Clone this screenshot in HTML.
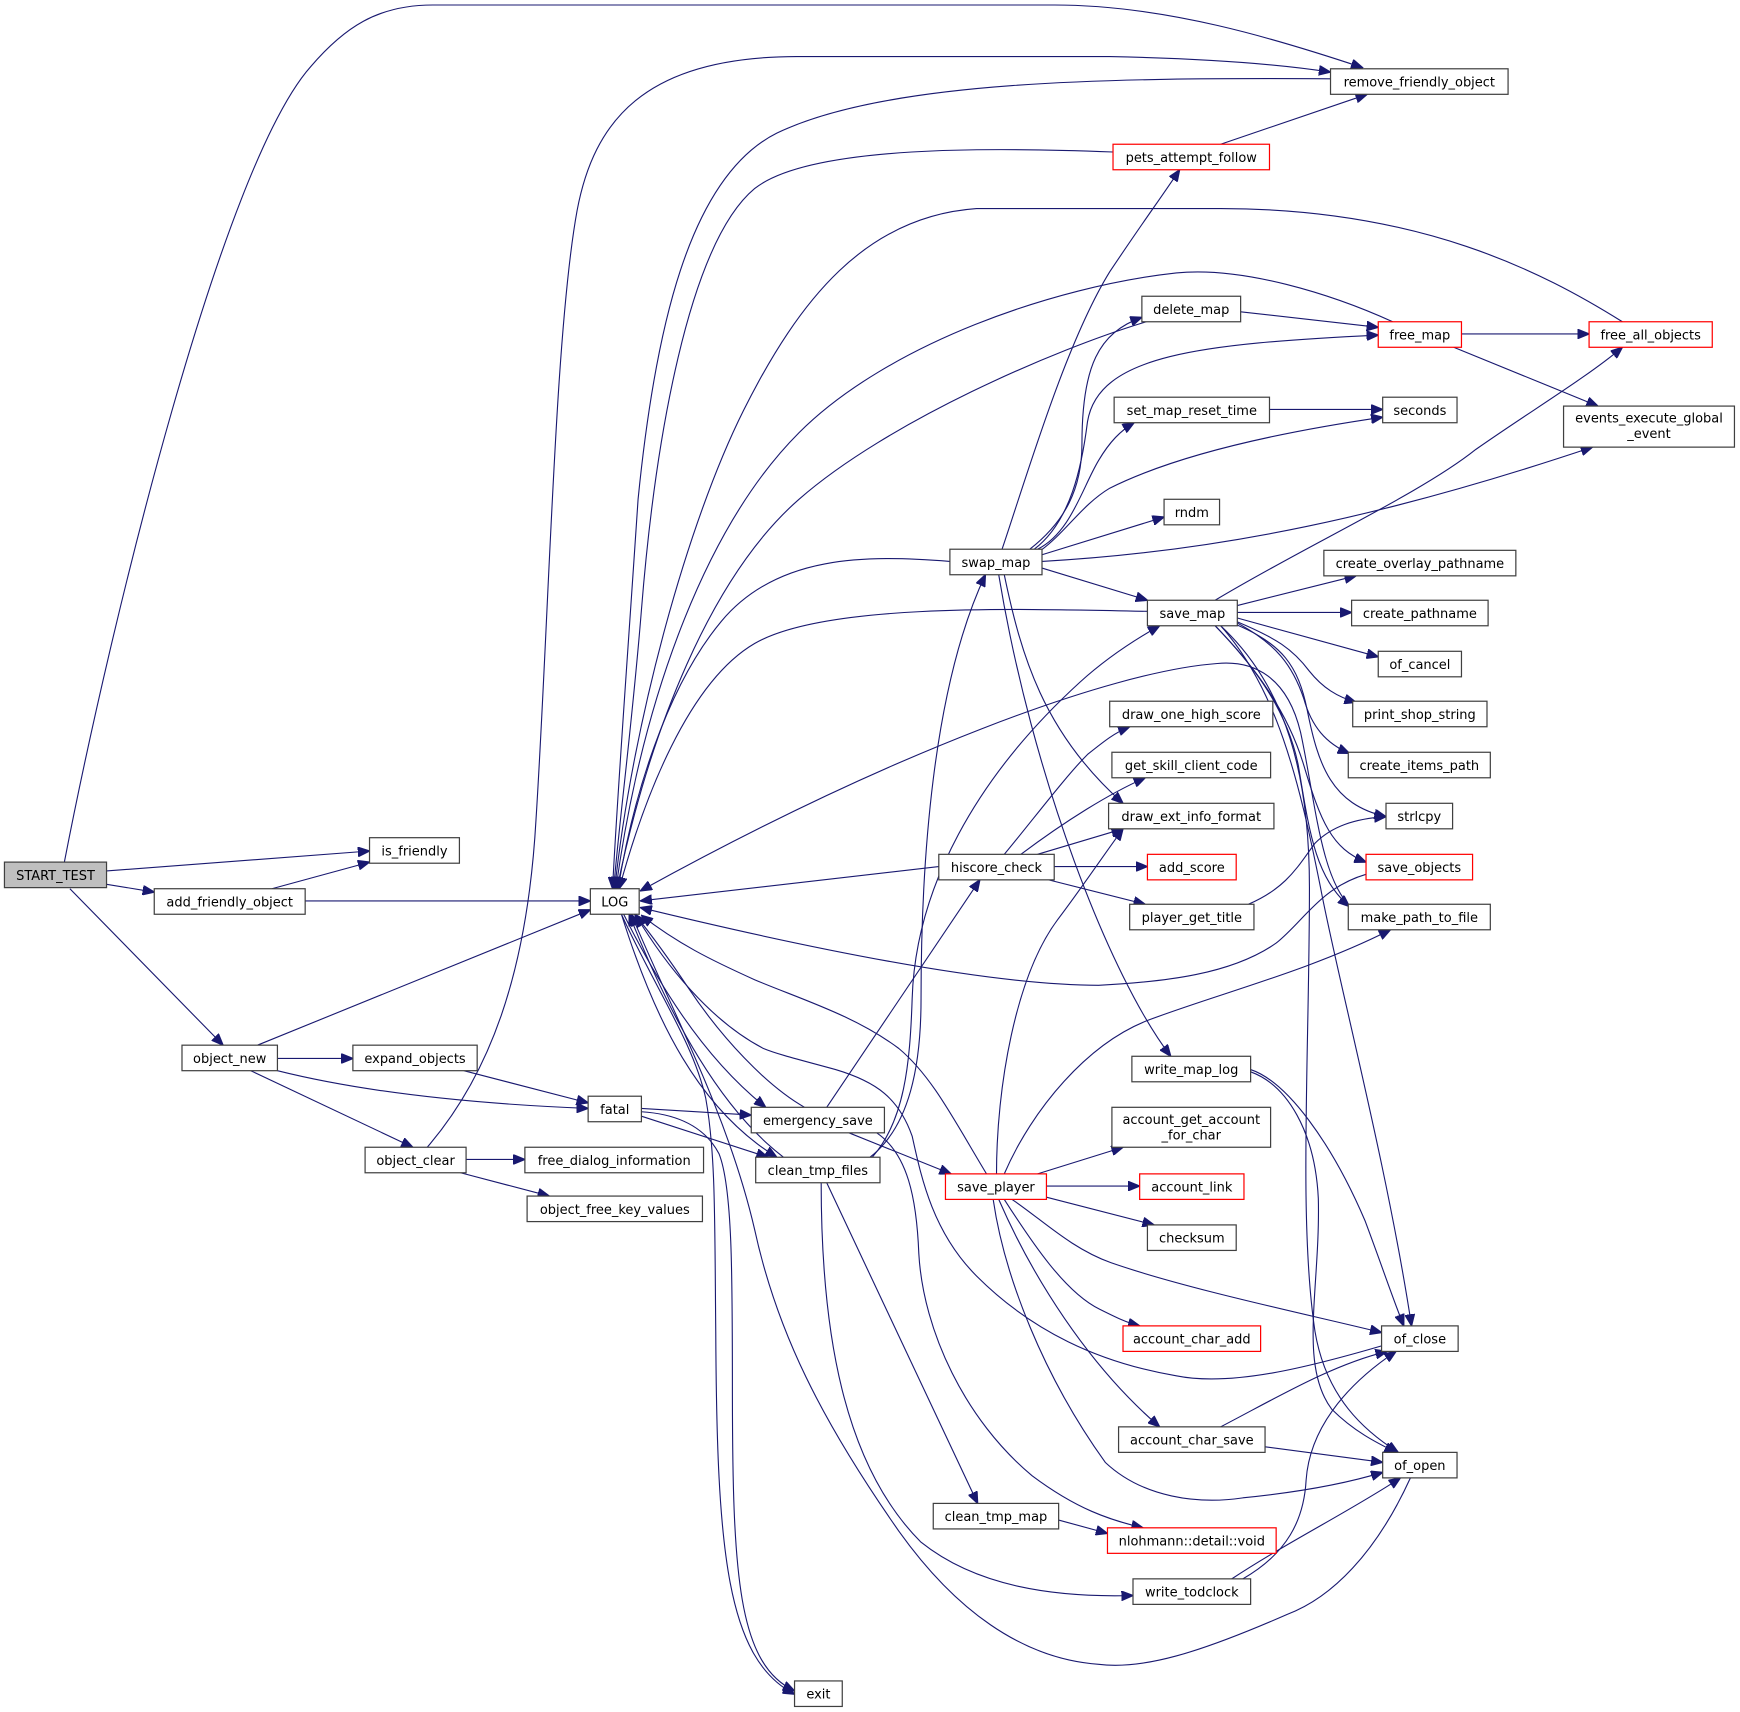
<!DOCTYPE html>
<html><head><meta charset="utf-8"><style>
html,body{margin:0;padding:0;background:#fff;}
svg{display:block;}
.e{fill:none;stroke:#191970;stroke-width:1;}
.n{fill:#fff;stroke:#404040;stroke-width:1.1;}
.r{fill:#fff;stroke:#ff0000;stroke-width:1.1;}
.g{fill:#bfbfbf;stroke:#404040;stroke-width:1.1;}
text{font-family:"DejaVu Sans","Liberation Sans",sans-serif;font-size:11.7px;fill:#000;text-anchor:middle;}
</style></head><body>
<svg width="1740" height="1712" viewBox="0 0 1568 1543" preserveAspectRatio="none" xmlns="http://www.w3.org/2000/svg">
<defs><marker id="a" markerUnits="userSpaceOnUse" markerWidth="11" markerHeight="9" refX="10.5" refY="4.5" orient="auto"><path d="M0,0 L11,4.5 L0,9 z" fill="#191970" stroke="#191970" stroke-width="0.8"/></marker></defs>
<g>
<path class="e" marker-end="url(#a)" d="M58,777 C100,560 200,150 280,60 C310,25 340,4.5 390,4.5 L950,4.5 C1050,4.5 1150,35 1228,61"/>
<path class="e" marker-end="url(#a)" d="M96,785 L333,767"/>
<path class="e" marker-end="url(#a)" d="M96,797 L139,804"/>
<path class="e" marker-end="url(#a)" d="M63,801 L201,942"/>
<path class="e" marker-end="url(#a)" d="M245,801 L333,777"/>
<path class="e" marker-end="url(#a)" d="M275,812 L532,812"/>
<path class="e" marker-end="url(#a)" d="M232,942 L532,820"/>
<path class="e" marker-end="url(#a)" d="M250,954 L318,954"/>
<path class="e" marker-end="url(#a)" d="M250,965 C330,985 430,995 530,999"/>
<path class="e" marker-end="url(#a)" d="M226,965 L372,1034"/>
<path class="e" marker-end="url(#a)" d="M418,965 L530,994"/>
<path class="e" marker-end="url(#a)" d="M385,1034 C440,970 475,880 483,739 C495,550 500,300 520,190 C535,110 580,51 718,51 L1000,51 C1100,53 1160,59 1199,65"/>
<path class="e" marker-end="url(#a)" d="M1199,71 C1000,70 800,72 700,120 C620,160 590,300 575,450 C565,600 556,720 552,801"/>
<path class="e" marker-end="url(#a)" d="M1100,130 L1232,85"/>
<path class="e" marker-end="url(#a)" d="M1003,137 C900,133 730,130 680,170 C620,220 590,400 578,550 C570,650 558,740 553,801"/>
<path class="e" marker-end="url(#a)" d="M1462,290 C1390,245 1280,188 1100,188 L880,188 C780,195 720,270 670,370 C620,470 570,650 554,801"/>
<path class="e" marker-end="url(#a)" d="M1255,290 C1200,265 1120,240 1060,246 C950,258 800,310 720,390 C640,470 580,620 555,801"/>
<path class="e" marker-end="url(#a)" d="M1033,290 C950,315 800,380 720,450 C640,520 585,660 556,801"/>
<path class="e" marker-end="url(#a)" d="M928,495 C960,470 975,440 975,400 C975,330 990,300 1029,286"/>
<path class="e" marker-end="url(#a)" d="M932,495 C965,470 975,420 980,380 C990,320 1080,310 1242,302"/>
<path class="e" marker-end="url(#a)" d="M935,495 C965,480 975,440 990,415 C1000,398 1010,388 1022,381"/>
<path class="e" marker-end="url(#a)" d="M938,496 C960,480 975,455 1000,440 C1060,410 1150,390 1246,376"/>
<path class="e" marker-end="url(#a)" d="M1144,369 L1246,369"/>
<path class="e" marker-end="url(#a)" d="M939,500 L1049,466"/>
<path class="e" marker-end="url(#a)" d="M939,506 C1100,497 1250,465 1435,403"/>
<path class="e" marker-end="url(#a)" d="M939,512 L1034,541"/>
<path class="e" marker-end="url(#a)" d="M856,506 C780,500 700,500 650,560 C600,620 570,720 557,801"/>
<path class="e" marker-end="url(#a)" d="M1034,551 C900,548 740,545 680,580 C620,615 580,720 558,801"/>
<path class="e" marker-end="url(#a)" d="M1095,541 C1180,490 1280,445 1330,405 C1380,370 1430,340 1462,313"/>
<path class="e" marker-end="url(#a)" d="M1114,546 L1222,519"/>
<path class="e" marker-end="url(#a)" d="M1115,552 L1218,552"/>
<path class="e" marker-end="url(#a)" d="M1115,557 L1242,592"/>
<path class="e" marker-end="url(#a)" d="M1114,560 C1150,575 1165,585 1180,605 C1192,620 1205,628 1222,633"/>
<path class="e" marker-end="url(#a)" d="M1114,561 C1150,580 1165,600 1175,630 C1182,655 1195,670 1216,679"/>
<path class="e" marker-end="url(#a)" d="M1114,563 C1155,580 1170,600 1178,640 C1188,690 1200,725 1249,736"/>
<path class="e" marker-end="url(#a)" d="M1095,564 C1130,600 1160,640 1175,690 C1190,740 1200,765 1231,777"/>
<path class="e" marker-end="url(#a)" d="M1095,564 C1130,600 1160,640 1170,690 C1180,750 1185,790 1216,817"/>
<path class="e" marker-end="url(#a)" d="M1100,564 C1150,620 1170,700 1190,800 C1205,880 1250,1050 1272,1195"/>
<path class="e" marker-end="url(#a)" d="M1100,564 C1160,620 1180,700 1180,800 C1180,950 1170,1100 1185,1200 C1195,1260 1230,1290 1260,1309"/>
<path class="e" marker-end="url(#a)" d="M1216,816 C1190,790 1185,720 1172,660 C1160,610 1130,595 1097,598 C1000,605 800,680 577,803"/>
<path class="e" marker-end="url(#a)" d="M1231,788 C1190,800 1175,830 1150,850 C1110,878 1050,885 990,888 C900,888 750,860 577,818"/>
<path class="e" marker-end="url(#a)" d="M846,781 L577,812"/>
<path class="e" marker-end="url(#a)" d="M905,770 C930,740 960,700 980,680 C995,668 1005,660 1018,655"/>
<path class="e" marker-end="url(#a)" d="M920,770 C960,740 1000,715 1032,701"/>
<path class="e" marker-end="url(#a)" d="M935,770 L1012,747"/>
<path class="e" marker-end="url(#a)" d="M950,781 L1034,781"/>
<path class="e" marker-end="url(#a)" d="M945,793 L1032,815"/>
<path class="e" marker-end="url(#a)" d="M1125,815 C1160,800 1170,780 1185,760 C1200,745 1220,738 1249,736"/>
<path class="e" marker-end="url(#a)" d="M903,495 C925,430 960,310 1000,245 C1030,200 1045,180 1063,153"/>
<path class="e" marker-end="url(#a)" d="M905,518 C920,590 940,660 1012,724"/>
<path class="e" marker-end="url(#a)" d="M900,518 C930,700 1000,880 1055,952"/>
<path class="e" marker-end="url(#a)" d="M786,1043 C815,1010 820,960 822,900 C825,800 880,700 973,615 C995,595 1020,578 1045,564"/>
<path class="e" marker-end="url(#a)" d="M745,998 L883,793"/>
<path class="e" marker-end="url(#a)" d="M765,1021 L857,1058"/>
<path class="e" marker-end="url(#a)" d="M725,998 C690,978 650,935 620,890 C600,860 585,840 572,824"/>
<path class="e" marker-end="url(#a)" d="M562,824 C590,880 630,950 690,998"/>
<path class="e" marker-end="url(#a)" d="M578,999 L677,1005"/>
<path class="e" marker-end="url(#a)" d="M578,1006 L692,1043"/>
<path class="e" marker-end="url(#a)" d="M560,824 C590,920 630,1000 700,1043"/>
<path class="e" marker-end="url(#a)" d="M706,1043 C650,1000 605,920 567,824"/>
<path class="e" marker-end="url(#a)" d="M578,1002 C610,1004 635,1015 648,1040 C660,1070 660,1150 660,1250 C660,1420 665,1500 716,1524"/>
<path class="e" marker-end="url(#a)" d="M560,824 C590,890 625,940 636,990 C645,1040 644,1100 645,1200 C646,1400 655,1495 716,1527"/>
<path class="e" marker-end="url(#a)" d="M784,1043 C820,1015 830,960 830,900 C830,780 840,620 888,518"/>
<path class="e" marker-end="url(#a)" d="M745,1066 L881,1355"/>
<path class="e" marker-end="url(#a)" d="M740,1066 C740,1200 760,1320 830,1390 C880,1430 950,1440 1021,1438"/>
<path class="e" marker-end="url(#a)" d="M790,1021 C818,1040 826,1080 828,1130 C832,1200 870,1280 930,1330 C970,1360 1000,1370 1030,1377"/>
<path class="e" marker-end="url(#a)" d="M954,1370 L998,1382"/>
<path class="e" marker-end="url(#a)" d="M1271,1332 C1240,1400 1200,1440 1160,1455 C1080,1490 1030,1505 990,1500 C920,1495 860,1450 810,1380 C740,1280 700,1200 680,1108 C655,1000 600,900 569,824"/>
<path class="e" marker-end="url(#a)" d="M1245,1213 C1180,1232 1110,1250 1060,1240 C990,1228 930,1200 880,1150 C840,1110 830,1060 822,1024 C810,990 790,975 753,964 C720,955 700,950 688,945 C640,920 600,870 573,825"/>
<path class="e" marker-end="url(#a)" d="M889,1058 C860,1010 840,970 810,945 C770,915 720,900 680,883 C640,865 610,850 578,825"/>
<path class="e" marker-end="url(#a)" d="M898,1058 C898,980 915,880 953,829 C975,800 995,770 1012,747"/>
<path class="e" marker-end="url(#a)" d="M905,1058 C930,1000 980,940 1036,919 C1100,895 1180,875 1253,838"/>
<path class="e" marker-end="url(#a)" d="M935,1058 L1012,1034"/>
<path class="e" marker-end="url(#a)" d="M943,1069 L1027,1069"/>
<path class="e" marker-end="url(#a)" d="M943,1079 L1040,1104"/>
<path class="e" marker-end="url(#a)" d="M912,1081 C940,1100 965,1125 1001,1138 C1070,1162 1180,1185 1245,1201"/>
<path class="e" marker-end="url(#a)" d="M905,1081 C930,1120 960,1165 991,1180 C1005,1187 1015,1192 1027,1195"/>
<path class="e" marker-end="url(#a)" d="M900,1081 C930,1150 980,1230 1045,1286"/>
<path class="e" marker-end="url(#a)" d="M895,1081 C905,1150 940,1240 996,1318 C1030,1350 1080,1356 1120,1350 C1170,1345 1210,1338 1246,1327"/>
<path class="e" marker-end="url(#a)" d="M1100,1286 C1150,1260 1200,1230 1250,1218"/>
<path class="e" marker-end="url(#a)" d="M1140,1304 L1246,1318"/>
<path class="e" marker-end="url(#a)" d="M1127,964 C1160,975 1200,1030 1230,1100 C1245,1140 1255,1170 1265,1195"/>
<path class="e" marker-end="url(#a)" d="M1127,966 C1160,978 1185,1020 1188,1080 C1190,1160 1170,1230 1200,1270 C1220,1290 1240,1300 1258,1309"/>
<path class="e" marker-end="url(#a)" d="M1120,1423 C1160,1400 1175,1370 1177,1334 C1180,1290 1210,1250 1258,1218"/>
<path class="e" marker-end="url(#a)" d="M1110,1423 C1160,1390 1220,1360 1262,1332"/>
<path class="e" marker-end="url(#a)" d="M1317,301 L1432,301"/>
<path class="e" marker-end="url(#a)" d="M1310,313 L1440,366"/>
<path class="e" marker-end="url(#a)" d="M1118,281 L1242,295"/>
<path class="e" marker-end="url(#a)" d="M420,1045 L473,1045"/>
<path class="e" marker-end="url(#a)" d="M415,1057 L495,1078"/>
</g>
<g>
<rect class="g" x="4" y="777" width="92" height="23"/><text x="50" y="793">START_TEST</text>
<rect class="n" x="333" y="755" width="81" height="23"/><text x="373.5" y="771">is_friendly</text>
<rect class="n" x="139" y="801" width="136" height="23"/><text x="207" y="817">add_friendly_object</text>
<rect class="n" x="532" y="801" width="44" height="23"/><text x="554" y="817">LOG</text>
<rect class="n" x="1199" y="62" width="160" height="23"/><text x="1279" y="78">remove_friendly_object</text>
<rect class="r" x="1003" y="130" width="141" height="23"/><text x="1073.5" y="146">pets_attempt_follow</text>
<rect class="n" x="1029" y="267" width="89" height="23"/><text x="1073.5" y="283">delete_map</text>
<rect class="r" x="1242" y="290" width="75" height="23"/><text x="1279.5" y="306">free_map</text>
<rect class="r" x="1432" y="290" width="111" height="23"/><text x="1487.5" y="306">free_all_objects</text>
<rect class="n" x="1004" y="358" width="140" height="23"/><text x="1074" y="374">set_map_reset_time</text>
<rect class="n" x="1246" y="358" width="67" height="23"/><text x="1279.5" y="374">seconds</text>
<rect class="n" x="1409" y="366" width="154" height="37"/><text x="1486" y="381">events_execute_global</text><text x="1486" y="395">_event</text>
<rect class="n" x="1049" y="450" width="50" height="23"/><text x="1074" y="466">rndm</text>
<rect class="n" x="856" y="495" width="83" height="23"/><text x="897.5" y="511">swap_map</text>
<rect class="n" x="1193" y="496" width="173" height="23"/><text x="1279.5" y="512">create_overlay_pathname</text>
<rect class="n" x="1034" y="541" width="81" height="23"/><text x="1074.5" y="557">save_map</text>
<rect class="n" x="1218" y="541" width="123" height="23"/><text x="1279.5" y="557">create_pathname</text>
<rect class="n" x="1242" y="587" width="75" height="23"/><text x="1279.5" y="603">of_cancel</text>
<rect class="n" x="1000" y="632" width="147" height="23"/><text x="1073.5" y="648">draw_one_high_score</text>
<rect class="n" x="1219" y="632" width="121" height="23"/><text x="1279.5" y="648">print_shop_string</text>
<rect class="n" x="1002" y="678" width="143" height="23"/><text x="1073.5" y="694">get_skill_client_code</text>
<rect class="n" x="1215" y="678" width="128" height="23"/><text x="1279" y="694">create_items_path</text>
<rect class="n" x="999" y="724" width="149" height="23"/><text x="1073.5" y="740">draw_ext_info_format</text>
<rect class="n" x="1249" y="724" width="60" height="23"/><text x="1279" y="740">strlcpy</text>
<rect class="n" x="846" y="770" width="104" height="23"/><text x="898" y="786">hiscore_check</text>
<rect class="r" x="1034" y="770" width="80" height="23"/><text x="1074" y="786">add_score</text>
<rect class="r" x="1231" y="770" width="96" height="23"/><text x="1279" y="786">save_objects</text>
<rect class="n" x="1018" y="815" width="112" height="23"/><text x="1074" y="831">player_get_title</text>
<rect class="n" x="1215" y="815" width="128" height="23"/><text x="1279" y="831">make_path_to_file</text>
<rect class="n" x="164" y="942" width="86" height="23"/><text x="207" y="958">object_new</text>
<rect class="n" x="318" y="942" width="112" height="23"/><text x="374" y="958">expand_objects</text>
<rect class="n" x="1020" y="952" width="107" height="23"/><text x="1073.5" y="968">write_map_log</text>
<rect class="n" x="530" y="988" width="48" height="23"/><text x="554" y="1004">fatal</text>
<rect class="n" x="677" y="998" width="120" height="23"/><text x="737" y="1014">emergency_save</text>
<rect class="n" x="1002" y="998" width="143" height="36"/><text x="1073.5" y="1013">account_get_account</text><text x="1073.5" y="1027">_for_char</text>
<rect class="n" x="329" y="1034" width="91" height="23"/><text x="374.5" y="1050">object_clear</text>
<rect class="n" x="473" y="1034" width="161" height="23"/><text x="553.5" y="1050">free_dialog_information</text>
<rect class="n" x="681" y="1043" width="112" height="23"/><text x="737" y="1059">clean_tmp_files</text>
<rect class="r" x="852" y="1058" width="91" height="23"/><text x="897.5" y="1074">save_player</text>
<rect class="r" x="1027" y="1058" width="94" height="23"/><text x="1074" y="1074">account_link</text>
<rect class="n" x="475" y="1078" width="158" height="23"/><text x="554" y="1094">object_free_key_values</text>
<rect class="n" x="1034" y="1104" width="80" height="23"/><text x="1074" y="1120">checksum</text>
<rect class="r" x="1012" y="1195" width="124" height="23"/><text x="1074" y="1211">account_char_add</text>
<rect class="n" x="1245" y="1195" width="69" height="23"/><text x="1279.5" y="1211">of_close</text>
<rect class="n" x="1008" y="1286" width="132" height="23"/><text x="1074" y="1302">account_char_save</text>
<rect class="n" x="1246" y="1309" width="67" height="23"/><text x="1279.5" y="1325">of_open</text>
<rect class="n" x="841" y="1355" width="113" height="23"/><text x="897.5" y="1371">clean_tmp_map</text>
<rect class="r" x="998" y="1377" width="152" height="23"/><text x="1074" y="1393">nlohmann::detail::void</text>
<rect class="n" x="1021" y="1423" width="106" height="23"/><text x="1074" y="1439">write_todclock</text>
<rect class="n" x="716" y="1515" width="43" height="23"/><text x="737.5" y="1531">exit</text>
</g>
</svg>
</body></html>
